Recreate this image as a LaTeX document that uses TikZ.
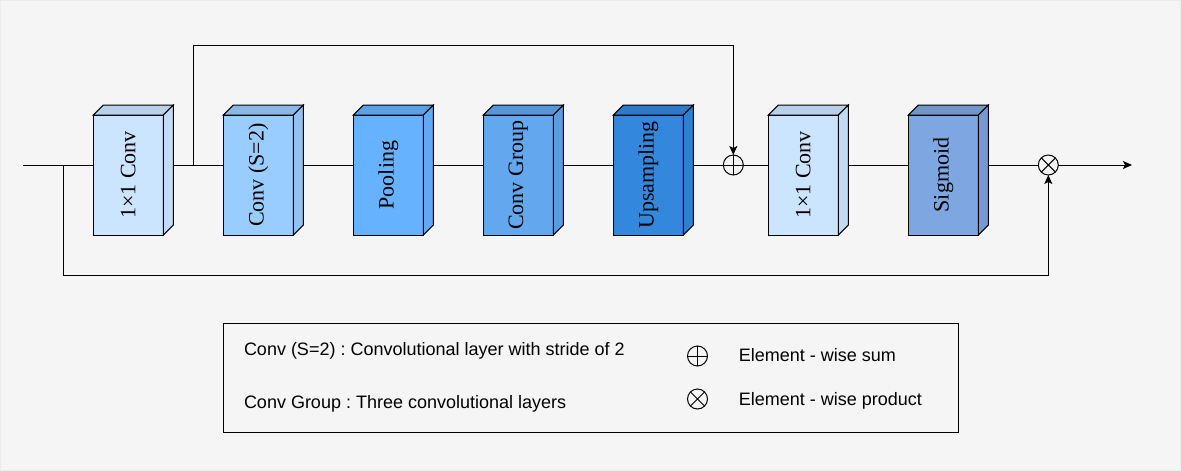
\documentclass[tikz,border=0pt]{standalone}
\usepackage{fontspec}
\setmainfont{Liberation Serif}
\newfontfamily\legendfont{Liberation Sans}
\usetikzlibrary{arrows.meta,calc}
\frenchspacing
% face colours of the layers: front, top, side
\definecolor{fronta}{HTML}{CCE5FF}\definecolor{topa}{HTML}{B8D0EA}\definecolor{sidea}{HTML}{C2DAF3}
\definecolor{frontb}{HTML}{99CCFF}\definecolor{topb}{HTML}{8AB8E6}\definecolor{sideb}{HTML}{91C2F2}
\definecolor{frontc}{HTML}{66B2FF}\definecolor{topc}{HTML}{5CA0E6}\definecolor{sidec}{HTML}{61A9F2}
\definecolor{frontd}{HTML}{63A7EE}\definecolor{topd}{HTML}{5796D8}\definecolor{sided}{HTML}{5A9CE0}
\definecolor{fronte}{HTML}{3388DD}\definecolor{tope}{HTML}{2E7AC8}\definecolor{sidee}{HTML}{3080D2}
\definecolor{frontf}{HTML}{7EA6E0}\definecolor{topf}{HTML}{7196CA}\definecolor{sidef}{HTML}{7799D2}
\definecolor{canvas}{HTML}{F5F5F5}
\tikzset{
  layer/.style={draw, line width=1pt, minimum width=70, minimum height=120,
    inner sep=0pt, outer sep=0pt, font=\fontsize{22}{24}\selectfont},
  opnode/.style={draw, circle, line width=1pt, minimum size=20, inner sep=0pt, outer sep=0pt, fill=canvas},
  arrow/.style={-{Stealth[length=9pt,width=8pt,inset=2pt]}},
  legendtext/.style={anchor=base west, inner sep=0pt, font=\legendfont\fontsize{18}{20}\selectfont}
}
\begin{document}
\begin{tikzpicture}[x=1pt, y=-1pt, line width=1pt]
	% background
	\fill[canvas] (0,0) rectangle (1181,471);
	\draw[color=black!8] (0.5,0.5) rectangle (1180.5,470.5);
	\useasboundingbox (0,0) rectangle (1181,471);
	% the layers
	\foreach \name/\x/\c/\txt in {conv1/128.3/a/1×1 Conv, convs/258.3/b/{Conv (S=2)},
	    pool/388.3/c/Pooling, group/518.3/d/Conv Group, up/648.3/e/Upsampling,
	    conv2/803.3/a/1×1 Conv, sig/943.3/f/Sigmoid} {
		\node[layer, fill=front\c] (\name) at (\x,175) {\rotatebox{90}{\txt}};
		\draw[fill=top\c] (\name.north west) -- ++(10,-10) -- ++(70,0) -- (\name.north east) -- cycle;
		\draw[fill=side\c] (\name.north east) -- ++(10,-10) -- ++(0,120) -- (\name.south east) -- cycle;
	}
	% sum and product
	\node[opnode] (add) at (733.3,165) {};
	\draw (add.north) -- (add.south) (add.west) -- (add.east);
	\node[opnode] (mul) at (1048.3,165) {};
	\draw (mul.north west) -- (mul.south east) (mul.north east) -- (mul.south west);
	% the main line
	\coordinate (in) at (23,165);
	\coordinate (split1) at (63,165);
	\coordinate (split2) at (193,165);
	\coordinate (out) at (1132,165);
	\draw (in) -- (conv1.west |- in);
	\foreach \a/\b in {conv1/convs, convs/pool, pool/group, group/up}
		\draw ([xshift=10pt]\a.east |- in) -- (\b.west |- in);
	\draw ([xshift=10pt]up.east |- in) -- (add);
	\draw (add) -- (conv2.west |- in);
	\draw ([xshift=10pt]conv2.east |- in) -- (sig.west |- in);
	\draw ([xshift=10pt]sig.east |- in) -- (mul);
	\draw[arrow] (mul) -- (out);
	% skip connections
	\draw[arrow] (split2) -- (split2 |- 0,45) -| (add);
	\draw[arrow] (split1) -- (split1 |- 0,275) -| (mul);
	% legend
	\node[draw, line width=1pt, minimum width=735, minimum height=109, anchor=north west,
	    inner sep=0pt, fill=canvas] (legend) at (223.3,323.3) {};
	\node[legendtext] (keyconvs) at (243.5,355) {Conv (S=2) : Convolutional layer with stride of 2};
	\node[legendtext] (keygroup) at (243.5,408.5) {Conv Group : Three convolutional layers};
	\node[opnode] (keyadd) at (697.5,356) {};
	\draw (keyadd.north) -- (keyadd.south) (keyadd.west) -- (keyadd.east);
	\node[opnode] (keymul) at (697.5,399) {};
	\draw (keymul.north west) -- (keymul.south east) (keymul.north east) -- (keymul.south west);
	\node[legendtext] (keysum) at (738.3,361) {Element - wise sum};
	\node[legendtext] (keyprod) at (738.3,405) {Element - wise product};
\end{tikzpicture}
\end{document}
